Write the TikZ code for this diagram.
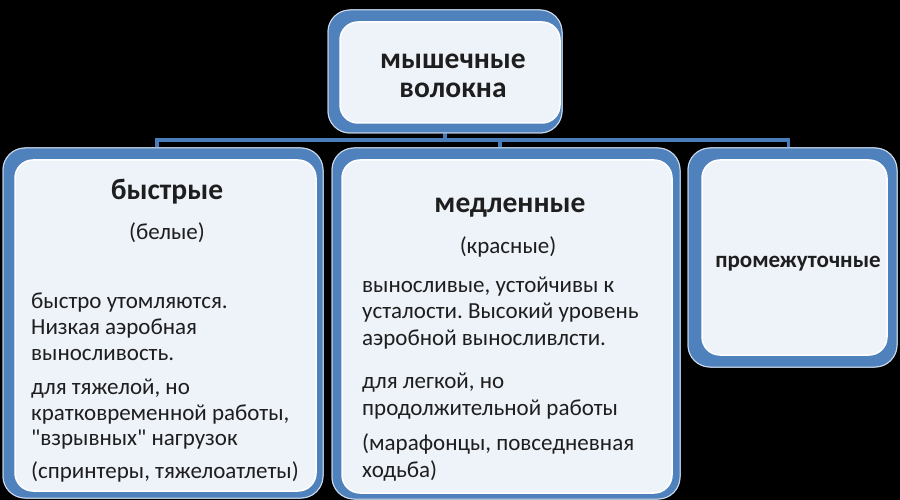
\documentclass[tikz,border=0pt]{standalone}
\usepackage{fontspec}
\setmainfont{Carlito}[Ligatures=TeXOff]
\frenchspacing
\definecolor{frameblue}{HTML}{4F81BD}
\definecolor{lineblue}{HTML}{4A7EBB}
\definecolor{innerfill}{HTML}{EEF2F9}
\definecolor{txt}{HTML}{1E1E1E}
\tikzset{
  outerbox/.style={draw=white!70!frameblue, line width=1pt, fill=frameblue, rounded corners=22pt, anchor=north west, inner sep=0pt, outer sep=0pt},
  innerbox/.style={draw=white, line width=1.5pt, fill=innerfill, rounded corners=18pt, anchor=north west, inner sep=0pt, outer sep=0pt},
  titletext/.style={font=\bfseries\fontsize{29.5}{31}\selectfont, text=txt, inner sep=0pt, anchor=base},
  smalltitle/.style={font=\bfseries\fontsize{23}{25}\selectfont, text=txt, inner sep=0pt, anchor=base},
  subtext/.style={font=\fontsize{23}{25}\selectfont, text=txt, inner sep=0pt, anchor=base},
  bodytext/.style={font=\fontsize{23}{25}\selectfont, text=txt, inner sep=0pt, anchor=base west},
  conn/.style={draw=lineblue, line width=3.2pt}
}
\begin{document}
\begin{tikzpicture}[x=1pt,y=-1pt]
\fill[black] (0,0) rectangle (900,500);
\useasboundingbox (0,0) rectangle (900,500);

% outer frames (positions only)
\node[outerbox, minimum width=234pt, minimum height=123pt] (topo) at (328,10) {};
\node[outerbox, minimum width=320pt, minimum height=350pt] (lefto) at (3,148) {};
\node[outerbox, minimum width=348pt, minimum height=351pt] (mido) at (332,148) {};
\node[outerbox, minimum width=209pt, minimum height=219pt] (righto) at (688,148) {};

% connectors
\coordinate (hub) at (0,140);
\draw[conn] (topo.south) -- (topo.south |- hub);
\draw[conn] ([xshift=-6pt]lefto.north) -- ([xshift=-6pt]lefto.north |- hub) -- ([xshift=-4pt]righto.north |- hub) -- ([xshift=-4pt]righto.north);
\draw[conn] ([xshift=-6pt]mido.north) -- ([xshift=-6pt]mido.north |- hub);

% redraw outer frames over connector ends
\node[outerbox, minimum width=234pt, minimum height=123pt] at (328,10) {};
\node[outerbox, minimum width=320pt, minimum height=350pt] at (3,148) {};
\node[outerbox, minimum width=348pt, minimum height=351pt] at (332,148) {};
\node[outerbox, minimum width=209pt, minimum height=219pt] at (688,148) {};

% inner panels
\node[innerbox, minimum width=220pt, minimum height=101pt] (topi) at (340,22) {};
\node[innerbox, minimum width=301pt, minimum height=331pt] (lefti) at (15,160) {};
\node[innerbox, minimum width=330pt, minimum height=333pt] (midi) at (342,160) {};
\node[innerbox, minimum width=185pt, minimum height=195pt] (righti) at (702,160) {};

% top box text
\node[titletext] (t1) at (453,69) {мышечные};
\node[titletext] (t2) at (453,98) {волокна};

% left box text
\node[titletext] (l1) at (167,200) {быстрые};
\node[subtext] (l2) at (167,240) {(белые)};
\node[bodytext] (l3) at (31,308) {быстро утомляются.};
\node[bodytext] (l4) at (31,334) {Низкая аэробная};
\node[bodytext] (l5) at (31,360) {выносливость.};
\node[bodytext] (l6) at (31,394) {для тяжелой, но};
\node[bodytext] (l7) at (31,420) {кратковременной работы,};
\node[bodytext] (l8) at (31,445) {"взрывных" нагрузок};
\node[bodytext] (l9) at (31,478) {(спринтеры, тяжелоатлеты)};

% middle box text
\node[titletext] (m1) at (510,212) {медленные};
\node[subtext] (m2) at (508,253) {(красные)};
\node[bodytext] (m3) at (362,292) {выносливые, устойчивы к};
\node[bodytext] (m4) at (362,318) {усталости. Высокий уровень};
\node[bodytext] (m5) at (362,345) {аэробной выносливлсти.};
\node[bodytext] (m6) at (362,388) {для легкой, но};
\node[bodytext] (m7) at (362,415) {продолжительной работы};
\node[bodytext] (m8) at (362,450) {(марафонцы, повседневная};
\node[bodytext] (m9) at (362,477) {ходьба)};

% right box text
\node[smalltitle] (r1) at (798,267) {промежуточные};
\end{tikzpicture}
\end{document}
